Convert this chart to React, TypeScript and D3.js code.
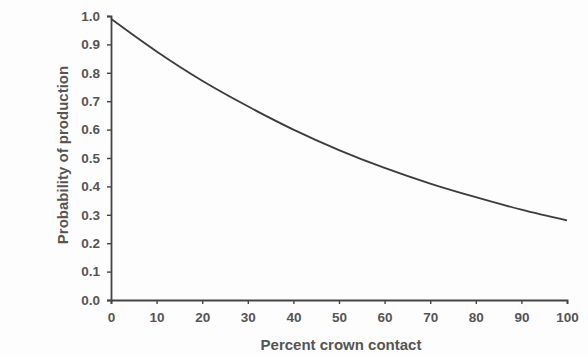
import { useEffect, useRef } from "react";
import * as d3 from "d3";

// Probability of production vs percent crown contact.
const crownContact = [0, 10, 20, 30, 40, 50, 60, 70, 80, 90, 100];
const probability = [0.99, 0.875, 0.772, 0.682, 0.6, 0.528, 0.465, 0.41, 0.362, 0.318, 0.28];
const xTicks = [0, 10, 20, 30, 40, 50, 60, 70, 80, 90, 100];
const yTicks = [0, 0.1, 0.2, 0.3, 0.4, 0.5, 0.6, 0.7, 0.8, 0.9, 1.0];

const xTitle = "Percent crown contact";
const yTitle = "Probability of production";

const INK = "#454545";
const TEXT = "#555555";
const FONT = "'Liberation Sans', Arial, sans-serif";

export default function App() {
  const svgRef = useRef<SVGSVGElement | null>(null);
  const W = 588;
  const H = 356;

  useEffect(() => {
    document.body.style.margin = "0";
    const svg = d3.select(svgRef.current);
    svg.selectAll("*").remove();

    const margin = { top: 16, right: 21, bottom: 56, left: 111 };
    const w = W - margin.left - margin.right;
    const h = H - margin.top - margin.bottom;

    svg.append("rect").attr("width", W).attr("height", H).attr("fill", "#fdfdfd");

    const g = svg
      .append("g")
      .attr("transform", `translate(${margin.left},${margin.top})`);

    const x = d3.scaleLinear().domain([0, 100]).range([0, w]);
    const y = d3.scaleLinear().domain([0, 1]).range([h, 0]);

    const xAxis = g
      .append("g")
      .attr("transform", `translate(0,${h})`)
      .call(
        d3.axisBottom(x).tickValues(xTicks).tickSize(4).tickSizeOuter(4).tickPadding(8)
          .tickFormat((v) => d3.format("d")(v as number)),
      );
    const yAxis = g
      .append("g")
      .call(
        d3.axisLeft(y).tickValues(yTicks).tickSize(4).tickSizeOuter(4).tickPadding(7)
          .tickFormat((v) => d3.format(".1f")(v as number)),
      );

    for (const ax of [xAxis, yAxis]) {
      ax.select(".domain").attr("stroke", INK).attr("stroke-width", 1.8);
      ax.selectAll(".tick line").attr("stroke", INK).attr("stroke-width", 1.4);
      ax.selectAll(".tick text")
        .attr("fill", TEXT)
        .attr("font-family", FONT)
        .attr("font-weight", "bold")
        .attr("font-size", 13.5);
    }

    const pts = crownContact.map((c, i) => ({ c, p: probability[i] }));
    const line = d3
      .line<{ c: number; p: number }>()
      .x((d) => x(d.c))
      .y((d) => y(d.p))
      .curve(d3.curveMonotoneX);

    g.append("path")
      .datum(pts)
      .attr("fill", "none")
      .attr("stroke", "#3c3c3c")
      .attr("stroke-width", 1.8)
      .attr("d", line);

    g.append("text")
      .attr("x", w / 2 + 2)
      .attr("y", h + 50)
      .attr("text-anchor", "middle")
      .attr("fill", TEXT)
      .attr("font-family", FONT)
      .attr("font-weight", "bold")
      .attr("font-size", 15)
      .text(xTitle);

    g.append("text")
      .attr("transform", `translate(${68 - margin.left},${155 - margin.top}) rotate(-90)`)
      .attr("text-anchor", "middle")
      .attr("fill", TEXT)
      .attr("font-family", FONT)
      .attr("font-weight", "bold")
      .attr("font-size", 15)
      .text(yTitle);
  }, []);

  return <svg ref={svgRef} width={W} height={H} style={{ display: "block" }} />;
}
